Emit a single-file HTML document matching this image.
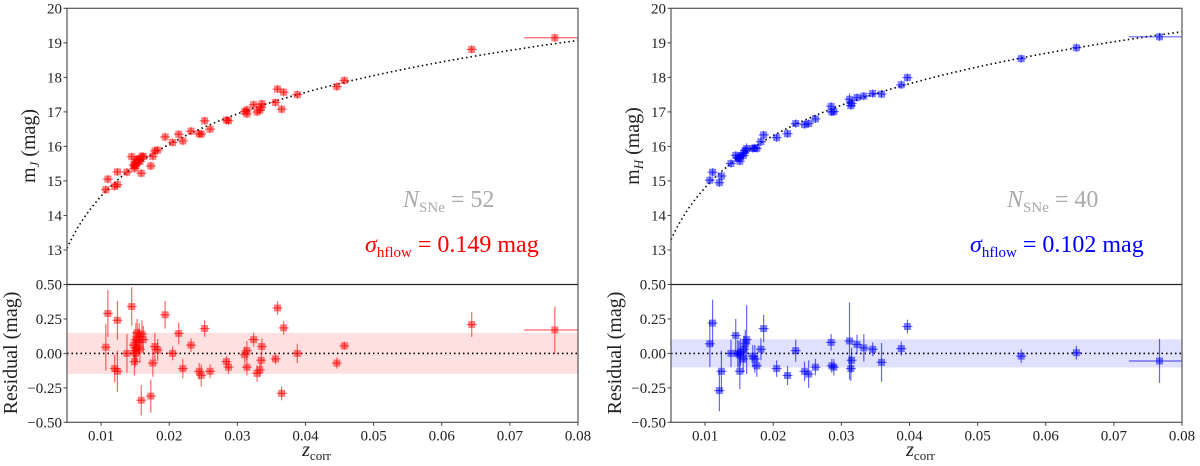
<!DOCTYPE html>
<html><head><meta charset="utf-8"><style>
html,body{margin:0;padding:0;background:#fff;}
svg{display:block;}
svg text, svg tspan{font-family:"Liberation Serif","DejaVu Serif","Noto Serif CJK SC",serif !important;}
</style></head><body>
<svg id="fig" width="1200" height="466" viewBox="0 0 1200 466" xmlns="http://www.w3.org/2000/svg" style="font-family:'Liberation Serif','DejaVu Serif',serif"></svg>
<script>
// ---- data: J band (left) ----
const zJ = [0.0107,0.0110,0.0120,0.0124,0.0124,0.0138,0.0145,0.0148,0.0149,0.0151,0.0152,0.0153,0.0156,0.0159,0.0160,0.0173,0.0176,0.0179,0.0183,0.0194,0.0205,0.0214,0.0220,0.0232,0.0244,0.0247,0.0252,0.0260,0.0284,0.0287,0.0311,0.0314,0.0314,0.0324,0.0329,0.0333,0.0335,0.0336,0.0356,0.0359,0.0365,0.0368,0.0388,0.0446,0.0457,0.0644,0.0766,0.0150,0.0155,0.0157,0.0162,0.0150];
const resJ = [0.045,0.29,-0.11,-0.13,0.24,0.00,0.34,0.06,-0.06,0.10,0.04,0.15,0.12,-0.34,0.14,-0.31,-0.07,0.05,0.025,0.28,0.00,0.145,-0.11,0.06,-0.13,-0.16,0.18,-0.13,-0.06,-0.10,-0.01,0.02,-0.10,0.10,-0.145,-0.12,-0.05,0.05,-0.04,0.33,-0.29,0.185,0.00,-0.07,0.055,0.21,0.17,0.0,0.08,0.03,0.10,0.02];
const errJ = [0.17,0.17,0.1,0.15,0.14,0.14,0.14,0.1,0.1,0.12,0.1,0.1,0.1,0.11,0.1,0.12,0.1,0.1,0.08,0.1,0.05,0.08,0.07,0.05,0.06,0.08,0.06,0.05,0.04,0.05,0.06,0.07,0.06,0.05,0.06,0.05,0.05,0.06,0.04,0.05,0.05,0.05,0.07,0.04,0.03,0.09,0.17,0.1,0.1,0.1,0.1,0.1];
// ---- data: H band (right) ----
const zH = [0.0107,0.0111,0.0121,0.0124,0.0138,0.0145,0.0148,0.0151,0.0152,0.0156,0.0159,0.0161,0.0173,0.0176,0.0182,0.0186,0.0205,0.0221,0.0233,0.0246,0.0252,0.0262,0.0285,0.0286,0.0289,0.0312,0.0314,0.0315,0.0323,0.0333,0.0346,0.0359,0.0388,0.0397,0.0564,0.0645,0.0767,0.0150,0.0170,0.0157];
const resH = [0.07,0.22,-0.27,-0.13,0.00,0.13,0.00,-0.13,0.01,-0.04,0.07,0.10,-0.04,-0.09,0.03,0.18,-0.11,-0.16,0.02,-0.13,-0.15,-0.10,0.08,-0.09,-0.10,0.09,-0.11,-0.05,0.065,0.04,0.03,-0.065,0.035,0.195,-0.02,0.005,-0.055,-0.01,-0.02,0.03];
const errH = [0.17,0.17,0.15,0.15,0.1,0.12,0.1,0.13,0.1,0.1,0.1,0.25,0.1,0.08,0.08,0.1,0.06,0.07,0.08,0.07,0.1,0.06,0.06,0.05,0.06,0.28,0.09,0.09,0.07,0.1,0.05,0.14,0.05,0.05,0.05,0.05,0.16,0.1,0.08,0.1];
const xTicks = [0.01,0.02,0.03,0.04,0.05,0.06,0.07,0.08];
const xTickLabels = ["0.01","0.02","0.03","0.04","0.05","0.06","0.07","0.08"];
const mTicks = [13,14,15,16,17,18,19,20];
const rTicks = [0.5,0.25,0,-0.25,-0.5];
const rTickLabels = ["0.50","0.25","0.00","\u22120.25","\u22120.50"];

const NS='http://www.w3.org/2000/svg';
const svg=document.getElementById('fig');
function el(tag,attrs,parent,text){const e=document.createElementNS(NS,tag);for(const k in attrs)e.setAttribute(k,attrs[k]);if(tag==='text')e.setAttribute('style',"font-family:'Liberation Serif','DejaVu Serif',serif");if(text!==undefined)e.textContent=text;(parent||svg).appendChild(e);return e;}

function panel(p){
  const L=p.x0,R=p.x0+511,T=8.3,M=284.5,B=422.3;
  const X=z=>L+(z-0.005)/0.075*(R-L);
  const YM=m=>T+(20-m)/8*(M-T);
  const YR=r=>M+(0.5-r)*(B-M);
  const model=z=>p.M0+5*Math.log10(z/0.005);
  const g=el('g',{});
  
  
  const band=el('rect',{x:L,y:YR(p.sig),width:R-L,height:YR(-p.sig)-YR(p.sig),fill:p.band},g);
  
  
  let d='';for(let i=0;i<=200;i++){const z=0.005+0.075*i/200;d+=(i?'L':'M')+X(z).toFixed(2)+' '+YM(model(z)).toFixed(2);}
  const c=el('path',{d:d,fill:'none',stroke:'#000','stroke-width':1.6,'stroke-dasharray':'1.5 3'},g);
  
  
  const zl=el('line',{x1:L,x2:R,y1:YR(0),y2:YR(0),stroke:'#000','stroke-width':1.6,'stroke-dasharray':'1.5 3'},g);
  
  
  for(let i=0;i<p.z.length;i++){
    const z=p.z[i],r=p.res[i],e=p.err[i],m=model(z)+r;
    const xe = z>0.07?0.0045:0.0004;
    const pg=el('g',{},g);
    
    
    const xl=Math.max(L,X(z-xe)), xr=Math.min(R,X(z+xe));
    [[YM(m),YM(m+Math.max(e*0.6,0.12)),YM(m-Math.max(e*0.6,0.12))],[YR(r),YR(r+e),YR(r-e)]].forEach(([cy,y1,y2])=>{
      el('line',{x1:X(z),x2:X(z),y1:y1,y2:y2,stroke:p.col,'stroke-opacity':0.6,'stroke-width':1.2},pg);
      el('line',{x1:Math.min(xl,X(z)-5),x2:Math.max(xr,X(z)+5),y1:cy,y2:cy,stroke:p.col,'stroke-opacity':0.6,'stroke-width':1.2},pg);
      el('rect',{x:X(z)-3.5,y:cy-3.5,width:7,height:7,fill:p.col,'fill-opacity':0.5},pg);
    });
  }
  el('rect',{x:L,y:T,width:R-L,height:B-T,fill:'none',stroke:'#555','stroke-width':1.2},g);
  el('line',{x1:L,x2:R,y1:M,y2:M,stroke:'#222','stroke-width':1.2},g);
  xTicks.forEach((t,i)=>{
    el('line',{x1:X(t),x2:X(t),y1:B,y2:B+3.5,stroke:'#444'},g);
    const tl=el('text',{x:X(t),y:B+18,'font-size':15,'text-anchor':'middle',fill:'#222'},g,xTickLabels[i]);
    
    
  });
  mTicks.forEach(t=>{
    el('line',{x1:L-3.5,x2:L,y1:YM(t),y2:YM(t),stroke:'#444'},g);
    const tl=el('text',{x:L-5,y:YM(t)+5,'font-size':15,'text-anchor':'end',fill:'#222'},g,String(t));
    
    
  });
  rTicks.forEach((t,i)=>{
    el('line',{x1:L-3.5,x2:L,y1:YR(t),y2:YR(t),stroke:'#444'},g);
    const tl=el('text',{x:L-5,y:YR(t)+5,'font-size':15,'text-anchor':'end',fill:'#222'},g,rTickLabels[i]);
    
    
  });
  const yl=el('text',{transform:`translate(${L-32},146) rotate(-90)`,'font-size':20,'text-anchor':'middle',fill:'#222'},g);
  
  
  el('tspan',{},yl,'m');el('tspan',{'font-size':13,'font-style':'italic',dy:4},yl,p.band_l);el('tspan',{dy:-4},yl,' (mag)');
  const rl=el('text',{transform:`translate(${L-50},353) rotate(-90)`,'font-size':20,'text-anchor':'middle',fill:'#222'},g,'Residual (mag)');
  
  
  const xt=el('text',{x:(L+R)/2-6,y:456,'font-size':20,'text-anchor':'middle',fill:'#222'},g);
  
  
  el('tspan',{'font-style':'italic'},xt,'z');el('tspan',{'font-size':13,dy:4},xt,'corr');
  const nt=el('text',{x:L+p.nx,y:207,'font-size':24,fill:'#aaa'},g);
  
  
  el('tspan',{'font-style':'italic'},nt,'N');el('tspan',{'font-size':15,dy:5},nt,'SNe');el('tspan',{dy:-5},nt,' = '+p.n);
  const st=el('text',{x:L+p.sx,y:252,'font-size':24,fill:p.col},g);
  
  
  el('tspan',{'font-style':'italic'},st,'\u03c3');el('tspan',{'font-size':15,dy:5},st,'hflow');el('tspan',{dy:-5},st,' = '+p.sig.toFixed(3)+' mag');
}
panel({name:'j-band',x0:67,z:zJ,res:resJ,err:errJ,M0:13.05,sig:0.149,col:'#ff0000',band:'#ffe0e0',band_l:'J',n:zJ.length,nx:336,sx:298});
panel({name:'h-band',x0:671,z:zH,res:resH,err:errH,M0:13.3,sig:0.102,col:'#0000ff',band:'#e0e0ff',band_l:'H',n:zH.length,nx:336,sx:299});
</script>
</body></html>
